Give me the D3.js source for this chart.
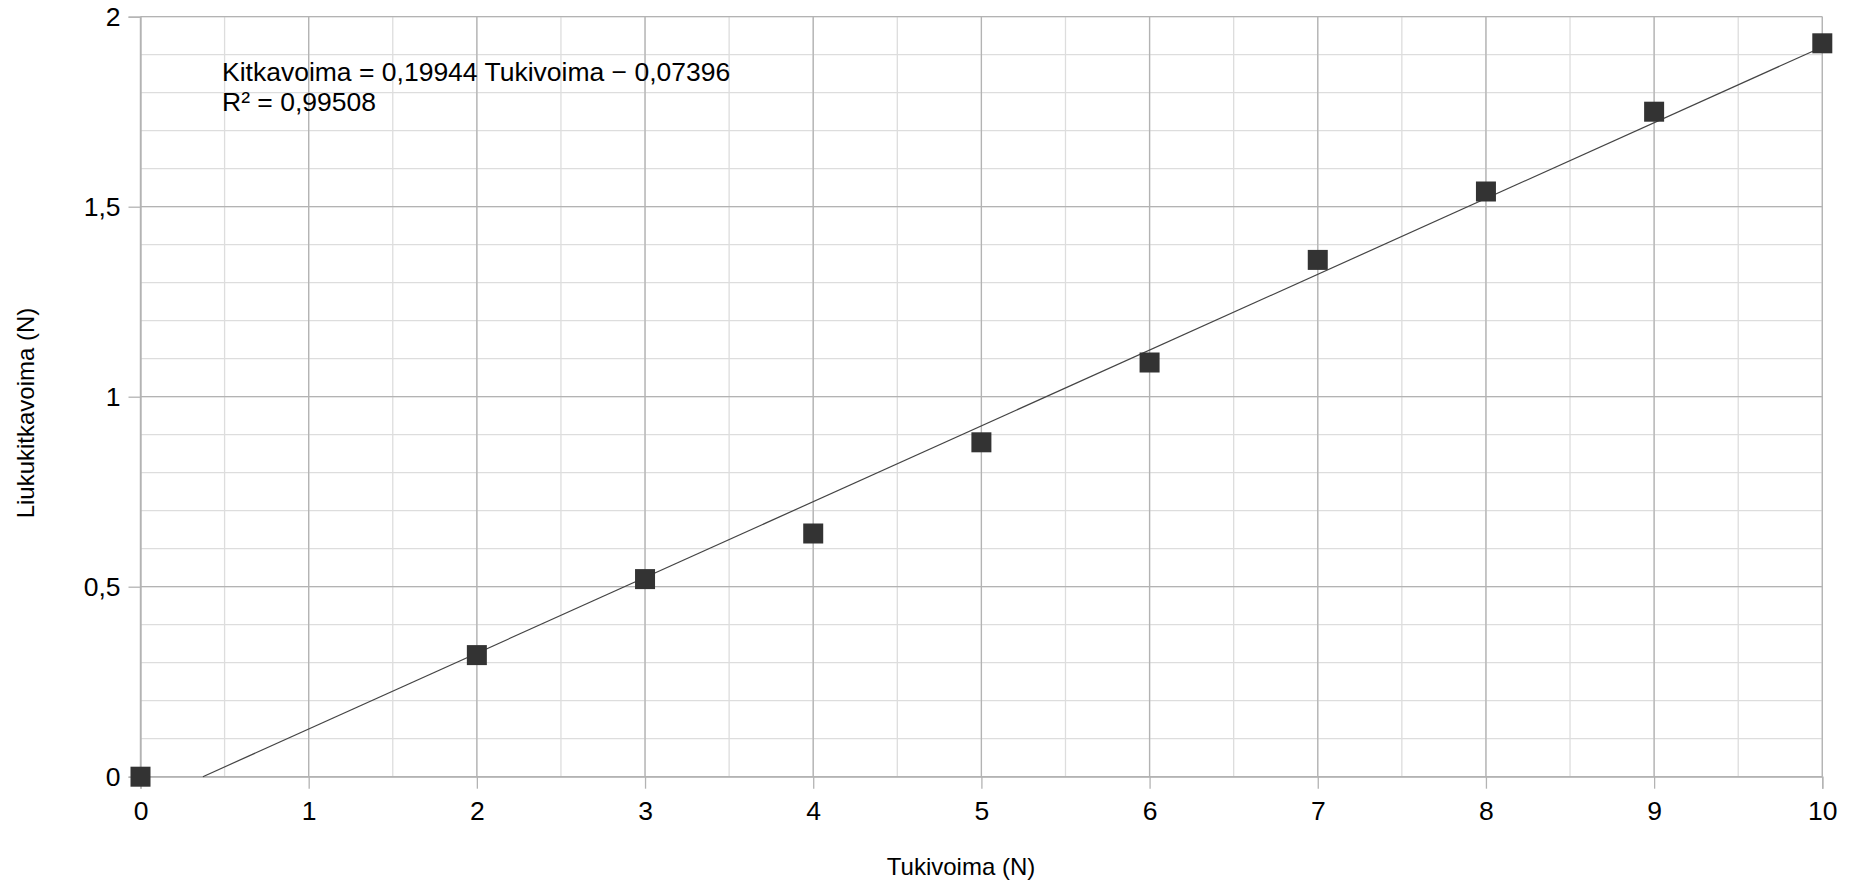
<!DOCTYPE html>
<html>
<head>
<meta charset="utf-8">
<script src="https://cdn.jsdelivr.net/npm/d3@7/dist/d3.min.js"></script>
<style>
  html, body { margin: 0; padding: 0; background: #fff; }
  svg { display: block; font-family: "Liberation Sans", Arial, sans-serif; }
</style>
</head>
<body>
<svg id="chart" width="1851" height="883"></svg>
<script>
// Measurements: normal force vs. sliding friction
const tukivoima = [0, 2, 3, 4, 5, 6, 7, 8, 9, 10];
const kitkavoima = [0, 0.32, 0.52, 0.64, 0.88, 1.09, 1.36, 1.54, 1.75, 1.93];

const xTicks = [0, 1, 2, 3, 4, 5, 6, 7, 8, 9, 10];
const yTicks = [0, 0.5, 1, 1.5, 2];
const xMinor = d3.range(0, 10.01, 0.5);
const yMinor = d3.range(0, 2.001, 0.1);

const xTitle = "Tukivoima (N)";
const yTitle = "Liukukitkavoima (N)";

const plotLeft = 140.5, plotRight = 1822.3, plotTop = 16.7, plotBottom = 776.7;

const svg = d3.select("#chart");
const x = d3.scaleLinear().domain([0, 10]).range([plotLeft, plotRight]);
const y = d3.scaleLinear().domain([0, 2]).range([plotBottom, plotTop]);

const fmt = v => String(v).replace(".", ",");

// minor grid
const grid = svg.append("g");
grid.selectAll("line.xm").data(xMinor).join("line")
  .attr("x1", d => x(d)).attr("x2", d => x(d))
  .attr("y1", plotTop).attr("y2", plotBottom)
  .attr("stroke", "#dddddd").attr("stroke-width", 1.3);
grid.selectAll("line.ym").data(yMinor).join("line")
  .attr("x1", plotLeft).attr("x2", plotRight)
  .attr("y1", d => y(d)).attr("y2", d => y(d))
  .attr("stroke", "#dddddd").attr("stroke-width", 1.3);
// major grid
grid.selectAll("line.xM").data(xTicks).join("line")
  .attr("x1", d => x(d)).attr("x2", d => x(d))
  .attr("y1", plotTop).attr("y2", plotBottom)
  .attr("stroke", "#b3b3b3").attr("stroke-width", 1.3);
grid.selectAll("line.yM").data(yTicks).join("line")
  .attr("x1", plotLeft).attr("x2", plotRight)
  .attr("y1", d => y(d)).attr("y2", d => y(d))
  .attr("stroke", "#b3b3b3").attr("stroke-width", 1.3);

// axes
const xAxis = d3.axisBottom(x).tickValues(xTicks).tickSize(12).tickPadding(12).tickFormat(fmt);
const yAxis = d3.axisLeft(y).tickValues(yTicks).tickSize(12).tickPadding(8).tickFormat(fmt);

const gx = svg.append("g").attr("transform", `translate(0,${plotBottom})`).call(xAxis);
const gy = svg.append("g").attr("transform", `translate(${plotLeft},0)`).call(yAxis);
[gx, gy].forEach(g => {
  g.select(".domain").attr("stroke", "#b3b3b3").attr("stroke-width", 1.3);
  g.selectAll(".tick line").attr("stroke", "#b3b3b3").attr("stroke-width", 1.3);
  g.selectAll(".tick text").attr("fill", "#000").attr("font-size", 26.5)
    .attr("font-family", "Liberation Sans, Arial, sans-serif");
});

// linear regression trend line
const mx = d3.mean(tukivoima), my = d3.mean(kitkavoima);
const sxy = d3.sum(tukivoima, (v, i) => (v - mx) * (kitkavoima[i] - my));
const sxx = d3.sum(tukivoima, v => (v - mx) * (v - mx));
const slope = sxy / sxx;
const intercept = my - slope * mx;
const xStart = Math.max(0, -intercept / slope);
svg.append("line")
  .attr("x1", x(xStart)).attr("y1", y(slope * xStart + intercept))
  .attr("x2", x(10)).attr("y2", y(slope * 10 + intercept))
  .attr("stroke", "#444").attr("stroke-width", 1.2);

// data points
const sz = 20;
svg.append("g").selectAll("rect").data(tukivoima).join("rect")
  .attr("x", d => x(d) - sz / 2)
  .attr("y", (d, i) => y(kitkavoima[i]) - sz / 2)
  .attr("width", sz).attr("height", sz)
  .attr("fill", "#333333");

// equation labels
svg.append("text").attr("x", 222).attr("y", 81)
  .attr("font-size", 26.5).attr("fill", "#000")
  .text("Kitkavoima = 0,19944 Tukivoima \u2212 0,07396");
svg.append("text").attr("x", 222).attr("y", 111)
  .attr("font-size", 26.5).attr("fill", "#000")
  .text("R\u00b2 = 0,99508");

// axis titles
svg.append("text").attr("x", 961).attr("y", 875)
  .attr("text-anchor", "middle").attr("font-size", 24).attr("fill", "#000")
  .text(xTitle);
svg.append("text")
  .attr("transform", "translate(34,413) rotate(-90)")
  .attr("text-anchor", "middle").attr("font-size", 24).attr("fill", "#000")
  .text(yTitle);
</script>
</body>
</html>
